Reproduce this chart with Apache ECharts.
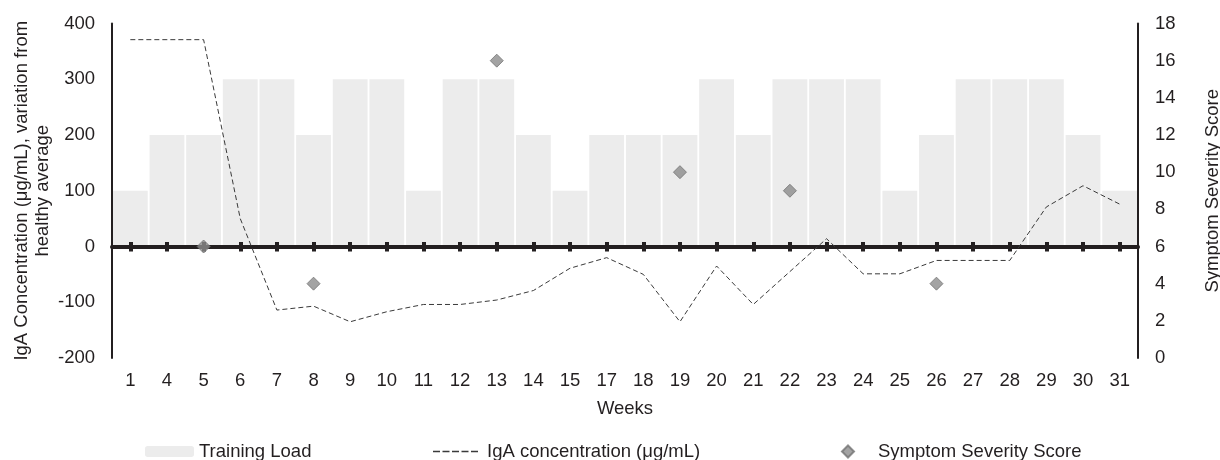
<!DOCTYPE html>
<html>
<head>
<meta charset="utf-8">
<script src="https://cdn.jsdelivr.net/npm/echarts@6/dist/echarts.min.js"></script>
<style>html,body{margin:0;padding:0;background:#fff}#c{width:1220px;height:460px}</style>
</head>
<body>
<div id="c"></div>
<script>
var weeks = ['1','4','5','6','7','8','9','10','11','12','13','14','15','17','18','19','20','21','22','23','24','25','26','27','28','29','30','31'];
var trainingLoad = [100,200,200,300,300,200,300,300,100,300,300,200,100,200,200,200,300,200,300,300,300,100,200,300,300,300,200,100];
var igaConcentration = [371,371,371,50,-114,-107,-135,-117,-104,-104,-96,-79,-39,-20,-50,-135,-35,-104,-45,14,-49,-49,-25,-25,-25,71,109,76];
var symptomScore = [null,null,6,null,null,4,null,null,null,null,16,null,null,null,null,10,null,null,9,null,null,null,4,null,null,null,null,null];
var leftTicks = {min:-200, max:400, interval:100};
var rightTicks = {min:0, max:18, interval:2};

var FONT = '"Liberation Sans", Arial, sans-serif';
var FS = 18.5;
var TXT = '#231f20';
var dashIcon = 'path://M0,0h7v1.5h-7z M9.5,0h7v1.5h-7z M19,0h7v1.5h-7z M28.5,0h7v1.5h-7z M38,0h7v1.5h-7z';
var chart = echarts.init(document.getElementById('c'));
chart.setOption({
  animation: false,
  backgroundColor: '#fff',
  textStyle: {fontFamily: FONT, color: TXT},
  grid: {left: 112, right: 82, top: 23.5, bottom: 102, containLabel: false, outerBoundsMode: 'none'},
  legend: [
    {data: ['Training Load'], left: 145, top: 442, padding: 0, itemWidth: 49, itemHeight: 11, itemGap: 0,
     textStyle: {fontFamily: FONT, fontSize: FS, color: TXT}},
    {data: [{name: 'IgA concentration (μg/mL)', icon: dashIcon}], left: 433, top: 442, padding: 0, itemWidth: 45, itemHeight: 1.5, itemGap: 0,
     textStyle: {fontFamily: FONT, fontSize: FS, color: TXT, padding: [0,0,0,4]}},
    {data: ['Symptom Severity Score'], left: 841, top: 442, padding: 0, itemWidth: 12, itemHeight: 12, itemGap: 0,
     textStyle: {fontFamily: FONT, fontSize: FS, color: TXT, padding: [0,0,0,19]}}
  ],
  xAxis: [
    {type: 'category', data: weeks, position: 'bottom',
     axisLine: {show: false, onZero: false}, axisTick: {show: false},
     axisLabel: {fontSize: FS, color: TXT, fontFamily: FONT, margin: 13, interval: 0},
     name: 'Weeks', nameLocation: 'middle', nameGap: 41, nameMoveOverlap: false,
     nameTextStyle: {fontSize: FS, color: TXT, fontFamily: FONT}},
    {type: 'category', data: weeks, position: 'top', z: 10,
     axisLine: {show: true, onZero: true, onZeroAxisIndex: 0, lineStyle: {color: '#231f20', width: 4}},
     axisTick: {show: true, alignWithLabel: true, inside: false, length: 4.5, lineStyle: {color: '#231f20', width: 4}},
     axisLabel: {show: false}},
    {type: 'category', data: weeks, position: 'bottom', z: 10,
     axisLine: {show: false, onZero: true, onZeroAxisIndex: 0},
     axisTick: {show: true, alignWithLabel: true, inside: false, length: 5, lineStyle: {color: '#231f20', width: 4}},
     axisLabel: {show: false}}
  ],
  yAxis: [
    {type: 'value', position: 'left', min: leftTicks.min, max: leftTicks.max, interval: leftTicks.interval,
     splitLine: {show: false}, axisTick: {show: false}, z: 10,
     axisLine: {show: true, onZero: false, lineStyle: {color: '#231f20', width: 2}},
     axisLabel: {fontSize: FS, color: TXT, fontFamily: FONT, margin: 17},
     name: 'IgA Concentration (μg/mL), variation from\nhealthy average', nameLocation: 'middle', nameRotate: 90, nameGap: 59,
     nameMoveOverlap: false,
     nameTextStyle: {fontSize: FS, color: TXT, fontFamily: FONT, lineHeight: 21}},
    {type: 'value', position: 'right', min: rightTicks.min, max: rightTicks.max, interval: rightTicks.interval,
     splitLine: {show: false}, axisTick: {show: false}, z: 10,
     axisLine: {show: true, onZero: false, lineStyle: {color: '#231f20', width: 2}},
     axisLabel: {fontSize: FS, color: TXT, fontFamily: FONT, margin: 17},
     name: 'Symptom Severity Score', nameLocation: 'middle', nameRotate: 90, nameGap: 65,
     nameMoveOverlap: false,
     nameTextStyle: {fontSize: FS, color: TXT, fontFamily: FONT}}
  ],
  series: [
    {name: 'Training Load', type: 'bar', xAxisIndex: 0, yAxisIndex: 0, data: trainingLoad,
     barCategoryGap: '5%', itemStyle: {color: '#ececec'}, z: 1},
    {name: 'IgA concentration (μg/mL)', type: 'line', xAxisIndex: 0, yAxisIndex: 0, data: igaConcentration,
     symbol: 'none', lineStyle: {color: '#3a3a3a', width: 1, type: [5, 3]}, itemStyle: {color: '#3a3a3a'}, z: 20},
    {name: 'Symptom Severity Score', type: 'scatter', xAxisIndex: 0, yAxisIndex: 1, data: symptomScore,
     symbol: 'diamond', symbolSize: 13, itemStyle: {color: '#8c8c8c', borderColor: '#737373', borderWidth: 1}, z: 21}
  ]
});
</script>
</body>
</html>
